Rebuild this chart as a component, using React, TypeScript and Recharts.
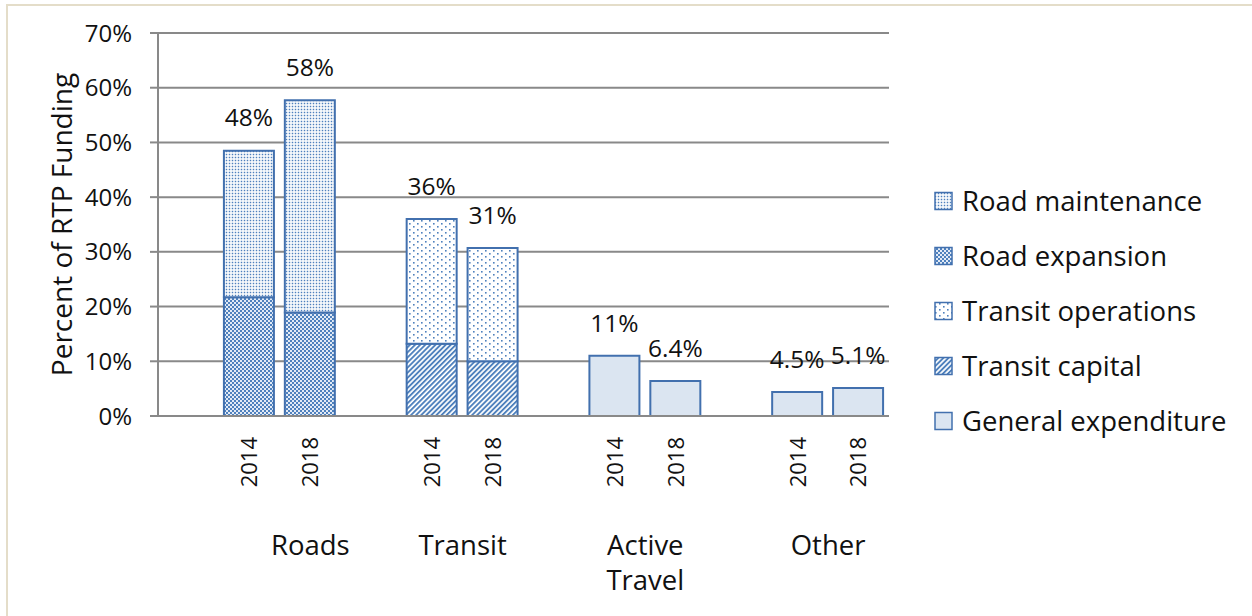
import React from 'react';
import { BarChart, Bar, XAxis, YAxis, CartesianGrid, LabelList } from 'recharts';

// ---------- data ----------
const categories = ['', '2014', '2018', '', '2014', '2018', '', '2014', '2018', '', '2014', '2018'];
const roadExpansion = [null, 21.7, 18.9, null, null, null, null, null, null, null, null, null];
const roadMaintenance = [null, 26.8, 38.8, null, null, null, null, null, null, null, null, null];
const transitCapital = [null, null, null, null, 13.2, 10.0, null, null, null, null, null, null];
const transitOperations = [null, null, null, null, 22.8, 20.7, null, null, null, null, null, null];
const generalExpenditure = [null, null, null, null, null, null, null, 11.0, 6.4, null, 4.4, 5.1];
const totalLabels = ['', '48%', '58%', '', '36%', '31%', '', '11%', '6.4%', '', '4.5%', '5.1%'];
const groupNames = [['Roads'], ['Transit'], ['Active', 'Travel'], ['Other']];
const groupFirst = [1, 4, 7, 10];
const groupLast = [3, 5, 8, 11];
const yTicks = [0, 10, 20, 30, 40, 50, 60, 70];

const seriesKeys = ['generalExpenditure', 'transitCapital', 'transitOperations', 'roadExpansion', 'roadMaintenance'];
const seriesValues: Record<string, (number | null)[]> = {
  generalExpenditure,
  transitCapital,
  transitOperations,
  roadExpansion,
  roadMaintenance,
};
const seriesNames: Record<string, string> = {
  roadMaintenance: 'Road maintenance',
  roadExpansion: 'Road expansion',
  transitOperations: 'Transit operations',
  transitCapital: 'Transit capital',
  generalExpenditure: 'General expenditure',
};
const legendOrder = ['roadMaintenance', 'roadExpansion', 'transitOperations', 'transitCapital', 'generalExpenditure'];

function topSeries(i: number): string | null {
  let top: string | null = null;
  for (const k of seriesKeys) {
    const v = seriesValues[k][i];
    if (v !== null && v !== undefined) top = k;
  }
  return top;
}

const data = categories.map((c, i) => {
  const row: Record<string, any> = { slot: `s${i}`, year: c };
  const top = topSeries(i);
  for (const k of seriesKeys) {
    row[k] = seriesValues[k][i];
    row[`lbl_${k}`] = top === k ? totalLabels[i] : '';
  }
  return row;
});

// ---------- styles ----------
const W = 1252;
const H = 616;
const PLOT_L = 158;
const PLOT_R = 889;
const PLOT_T = 33;
const PLOT_B = 416;
const PITCH = (PLOT_R - PLOT_L) / categories.length;
const BLUE = '#4f81bd';
const EDGE = '#4270ae';
const GRID = '#898989';
const TXT = '#111';
const FONT = '"Open Sans", "Noto Sans", sans-serif';

const fills: Record<string, string> = {
  roadMaintenance: 'url(#pRM)',
  roadExpansion: 'url(#pRE)',
  transitOperations: 'url(#pTO)',
  transitCapital: 'url(#pTC)',
  generalExpenditure: '#dbe5f1',
};

const TotalLabel = (props: any) => {
  const { x, y, width, value } = props;
  if (!value) return null;
  return (
    <text x={Number(x) + Number(width) / 2} y={Number(y) - 33} dy="0.36em" textAnchor="middle" fontSize={24.5} fill={TXT} fontFamily={FONT}>
      {value}
    </text>
  );
};

const CategoryTick = (props: any) => {
  const { x, index } = props;
  const i = index;
  const year = categories[i];
  const gi = groupFirst.indexOf(i);
  const gx = gi >= 0 ? x + ((groupFirst[gi] + groupLast[gi]) / 2 - i) * PITCH : 0;
  return (
    <g>
      {year ? (
        <text
          transform={`translate(${x},${PLOT_B + 21}) rotate(-90)`}
          textAnchor="end"
          dy="0.36em"
          fontSize={22}
          fill={TXT}
          fontFamily={FONT}
        >
          {year}
        </text>
      ) : null}
      {gi >= 0 ? (
        <text x={gx} y={545} textAnchor="middle" fontSize={27.5} fill={TXT} fontFamily={FONT}>
          {groupNames[gi].map((l, k) => (
            <tspan key={k} x={gx} dy={k === 0 ? '0.36em' : 35}>
              {l}
            </tspan>
          ))}
        </text>
      ) : null}
    </g>
  );
};

const LegendBlock = () => (
  <svg width={320} height={270} style={{ position: 'absolute', left: 934, top: 174, overflow: 'visible' }}>
    {legendOrder.map((k, j) => (
      <g key={k} transform={`translate(0, ${27 + j * 55})`}>
        <rect x={1} y={-8.5} width={17} height={17} fill={fills[k]} stroke={EDGE} strokeWidth={1.5} />
        <text x={28} y={0} dy="0.36em" fontSize={27.5} fill={TXT} fontFamily={FONT}>
          {seriesNames[k]}
        </text>
      </g>
    ))}
  </svg>
);

export default function App() {
  return (
    <div
      style={{
        position: 'absolute',
        left: 0,
        top: 0,
        width: W,
        height: H,
        overflow: 'hidden',
        background: '#fff',
        fontFamily: FONT,
      }}
    >
      <div
        style={{
          position: 'absolute',
          left: 6,
          top: 4,
          width: W + 20,
          height: H + 20,
          borderLeft: '2px solid #e4ddc9',
          borderTop: '2px solid #e4ddc9',
        }}
      />
      <div style={{ position: 'absolute', left: 0, top: 0 }}>
        <BarChart
          width={W}
          height={H}
          data={data}
          margin={{ top: PLOT_T, right: W - PLOT_R, bottom: 0, left: 0 }}
          barSize={50}
        >
          <defs>
            <pattern id="pRM" width="3" height="3" patternUnits="userSpaceOnUse">
              <rect width="3" height="3" fill="#fff" />
              <rect x="0.75" y="0.75" width="1.5" height="1.5" fill={BLUE} />
            </pattern>
            <pattern id="pRE" width="4" height="4" patternUnits="userSpaceOnUse">
              <rect width="4" height="4" fill={BLUE} />
              <rect x="0" y="0" width="2" height="2" fill="#fff" />
              <rect x="2" y="2" width="2" height="2" fill="#fff" />
              <rect x="0.5" y="0.5" width="1" height="1" fill="#8eaedb" />
              <rect x="2.5" y="2.5" width="1" height="1" fill="#8eaedb" />
            </pattern>
            <pattern id="pTO" width="8" height="6" patternUnits="userSpaceOnUse">
              <rect width="8" height="6" fill="#fff" />
              <rect x="1" y="1" width="1.6" height="1.6" fill={BLUE} />
              <rect x="5" y="4" width="1.6" height="1.6" fill={BLUE} />
            </pattern>
            <pattern id="pTC" width="3.6" height="3.6" patternUnits="userSpaceOnUse" patternTransform="rotate(45)">
              <rect width="3.6" height="3.6" fill="#fff" />
              <rect width="1.9" height="3.6" fill={BLUE} />
            </pattern>
          </defs>
          <CartesianGrid horizontal vertical={false} stroke={GRID} strokeWidth={2} />
          <XAxis
            dataKey="slot"
            interval={0}
            tickLine={false}
            axisLine={{ stroke: GRID, strokeWidth: 2 }}
            height={H - PLOT_B}
            tick={<CategoryTick />}
          />
          <YAxis
            width={PLOT_L}
            domain={[0, 70]}
            ticks={yTicks}
            interval={0}
            tickFormatter={(v: number) => `${v}%`}
            tickSize={8}
            tickMargin={18}
            tickLine={{ stroke: GRID, strokeWidth: 2 }}
            axisLine={{ stroke: GRID, strokeWidth: 2 }}
            tick={{ fontSize: 24, fill: TXT, fontFamily: FONT }}
            label={{
              content: () => (
                <text
                  transform={`translate(62, ${(PLOT_T + PLOT_B) / 2}) rotate(-90)`}
                  textAnchor="middle"
                  dy="0.36em"
                  fontSize={28}
                  fill={TXT}
                  fontFamily={FONT}
                >
                  Percent of RTP Funding
                </text>
              ),
            }}
          />
          {seriesKeys.map((k) => (
            <Bar
              key={k}
              dataKey={k}
              name={seriesNames[k]}
              stackId="s"
              fill={fills[k]}
              stroke={EDGE}
              strokeWidth={2}
              isAnimationActive={false}
            >
              <LabelList dataKey={`lbl_${k}`} content={<TotalLabel />} />
            </Bar>
          ))}
        </BarChart>
      </div>
      <LegendBlock />
    </div>
  );
}
